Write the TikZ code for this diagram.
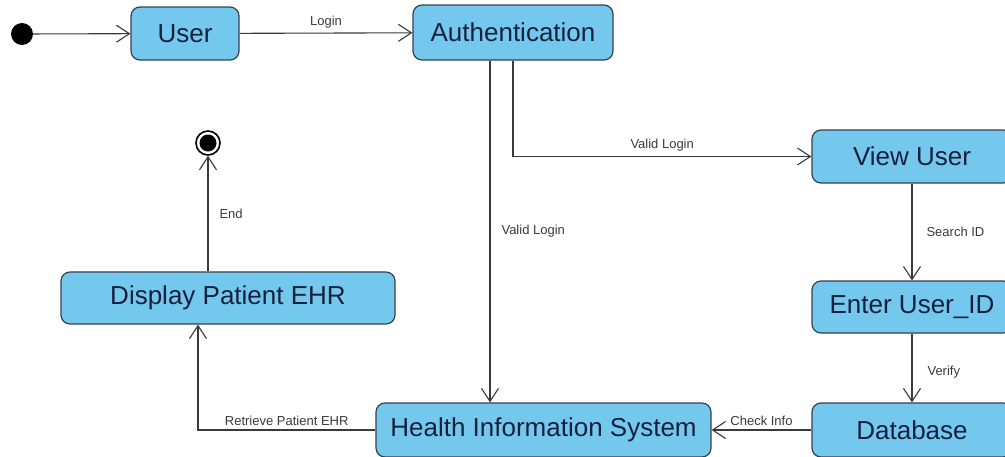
\documentclass[tikz,border=0pt]{standalone}
\usepackage{fontspec}
\setmainfont{Liberation Sans}
\usetikzlibrary{arrows.meta}
\definecolor{boxfill}{HTML}{74C8EE}
\definecolor{boxdraw}{HTML}{34424F}
\definecolor{boxtext}{HTML}{14213D}
\definecolor{linec}{HTML}{3A3A3A}
\tikzset{
  state/.style={draw=boxdraw, fill=boxfill, rounded corners=9pt, line width=1.2pt,
    text=boxtext, font=\fontsize{26}{30}\selectfont, inner sep=0pt, align=center},
  arr/.style={draw=linec, line width=1.1pt,
    -{Straight Barb[length=13pt,width=17pt,line width=1.1pt]}},
  lbl/.style={font=\fontsize{13}{15}\selectfont, text=linec, inner sep=1pt},
}
\begin{document}
\begin{tikzpicture}[x=1pt,y=-1pt]
\useasboundingbox (0,0) rectangle (1005,456);
\fill[white] (0,0) rectangle (1005,456);
% nodes
\node[circle, fill=black, minimum size=22pt, inner sep=0pt] (start) at (22,34) {};
\node[state, minimum width=108pt, minimum height=53pt] (user) at (185,33.5) {User};
\node[state, minimum width=200pt, minimum height=55pt] (auth) at (513,32.5) {Authentication};
\node[state, minimum width=200pt, minimum height=53pt] (view) at (912,156.5) {View User};
\node[state, minimum width=200pt, minimum height=52pt] (enter) at (912,307) {Enter User\_ID};
\node[state, minimum width=200pt, minimum height=54pt] (db) at (912,430) {Database};
\node[state, minimum width=335pt, minimum height=54pt] (his) at (543.5,430) {Health Information System};
\node[state, minimum width=334pt, minimum height=52pt] (disp) at (228,298) {Display Patient EHR};
\node[circle, draw=black, line width=1.6pt, minimum size=24pt, inner sep=0pt] (endn) at (208,143) {};
\fill[black] (endn.center) circle (8.5pt);
% connectors
\draw[arr] (start) -- (user);
\draw[arr] (user) -- node[lbl, above=3pt] {Login} (auth);
\draw[arr] (auth.south) |- node[lbl, above=4pt, pos=0.75] {Valid Login} (view.west);
\draw[arr] ([xshift=-23pt]auth.south) -- ([xshift=-23pt]auth.south |- his.north)
  node[lbl, pos=0.5, right=10pt] {Valid Login};
\draw[arr] (view.south) -- node[lbl, right=13pt] {Search ID} (enter.north);
\draw[arr] (enter.south) -- node[lbl, right=14pt, yshift=-4pt] {Verify} (db.north);
\draw[arr] (db.west) -- node[lbl, above=3pt] {Check Info} (his.east);
\draw[arr] (his.west) -| node[lbl, above=3pt, pos=0.25] {Retrieve Patient EHR} ([xshift=-30pt]disp.south);
\draw[arr] ([xshift=-20pt]disp.north) -- node[lbl, right=10pt, pos=0.5] {End} (endn.south);
\end{tikzpicture}
\end{document}
